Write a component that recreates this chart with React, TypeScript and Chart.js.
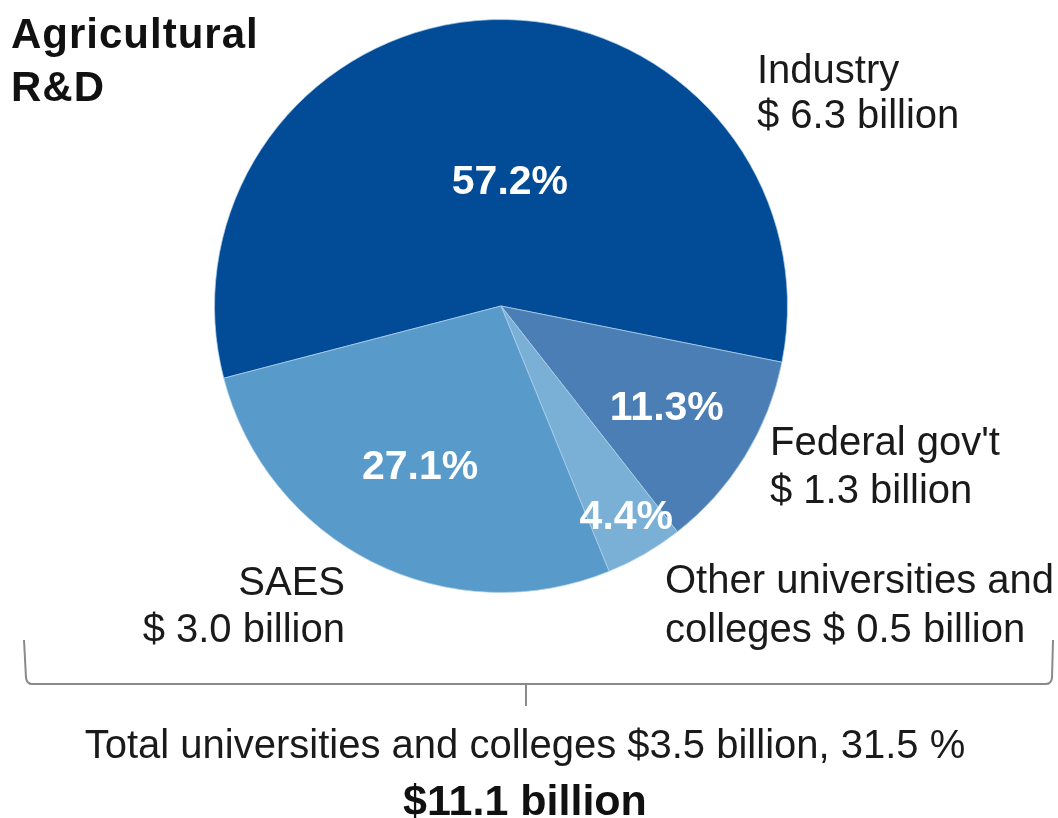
import React, { useEffect, useRef } from "react";
import { Chart, registerables } from "chart.js";

Chart.register(...registerables);

const categories = ["Industry", "Federal gov't", "Other universities and colleges", "SAES"];
const shares = [57.2, 11.3, 4.4, 27.1];
const amounts = ["$ 6.3 billion", "$ 1.3 billion", "$ 0.5 billion", "$ 3.0 billion"];
const colors = ["#024C97", "#4A7EB4", "#7AAFD6", "#589BCA"];
const labelRadius = [0.43, 0.68, 0.86, 0.63];
const labelAngleShiftDeg = [5.8, 0, -0.5, 0];

const titleLines = ["Agricultural", "R&D"];
const totalUniText = "Total universities and colleges $3.5 billion, 31.5 %";
const totalText = "$11.1 billion";

const FONT = "'Liberation Sans', Arial, Helvetica, sans-serif";

const overlayPlugin = {
  id: "overlay",
  afterDatasetsDraw(chart: any) {
    const ctx = chart.ctx as CanvasRenderingContext2D;
    const meta = chart.getDatasetMeta(0);
    ctx.save();
    ctx.fillStyle = "#ffffff";
    ctx.font = `bold 41px ${FONT}`;
    ctx.textAlign = "center";
    ctx.textBaseline = "middle";
    meta.data.forEach((arc: any, i: number) => {
      const p = arc.getProps(["x", "y", "startAngle", "endAngle", "outerRadius"], true);
      const mid = (p.startAngle + p.endAngle) / 2 + (labelAngleShiftDeg[i] * Math.PI) / 180;
      const r = p.outerRadius * labelRadius[i];
      ctx.fillText(shares[i].toFixed(1) + "%", p.x + Math.cos(mid) * r, p.y + Math.sin(mid) * r);
    });
    ctx.restore();
  },
  afterDraw(chart: any) {
    const ctx = chart.ctx as CanvasRenderingContext2D;
    ctx.save();
    ctx.textBaseline = "alphabetic";
    ctx.fillStyle = "#111";
    ctx.textAlign = "left";
    ctx.font = `bold 42px ${FONT}`;
    (ctx as any).letterSpacing = "1px";
    ctx.fillText(titleLines[0], 11, 48);
    ctx.fillText(titleLines[1], 11, 101);
    (ctx as any).letterSpacing = "0px";

    ctx.font = `40px ${FONT}`;
    ctx.fillStyle = "#1a1a1a";
    ctx.fillText(categories[0], 757, 83);
    ctx.fillText(amounts[0], 757, 128);
    ctx.fillText(categories[1], 770, 455);
    ctx.fillText(amounts[1], 770, 503);
    ctx.fillText("Other universities and", 665, 593);
    ctx.fillText("colleges " + amounts[2], 665, 642);
    ctx.textAlign = "right";
    ctx.fillText(categories[3], 345, 595);
    ctx.fillText(amounts[3], 345, 642);

    ctx.strokeStyle = "#8a8a8a";
    ctx.lineWidth = 2;
    ctx.beginPath();
    ctx.moveTo(24, 640);
    ctx.lineTo(26, 678);
    ctx.quadraticCurveTo(27, 684, 32, 684);
    ctx.lineTo(1046, 684);
    ctx.quadraticCurveTo(1051, 684, 1052, 678);
    ctx.lineTo(1053, 640);
    ctx.stroke();
    ctx.beginPath();
    ctx.moveTo(526, 684);
    ctx.lineTo(526, 706);
    ctx.stroke();

    ctx.textAlign = "center";
    ctx.fillStyle = "#1a1a1a";
    ctx.font = `40px ${FONT}`;
    ctx.fillText(totalUniText, 525, 758);
    ctx.fillStyle = "#111";
    ctx.font = `bold 43px ${FONT}`;
    ctx.fillText(totalText, 525, 815);
    ctx.restore();
  },
};

export default function App() {
  const ref = useRef<HTMLCanvasElement | null>(null);
  useEffect(() => {
    if (!ref.current) return;
    const chart = new Chart(ref.current, {
      type: "pie",
      data: {
        labels: categories,
        datasets: [
          {
            data: shares,
            backgroundColor: colors,
            borderColor: "rgba(180,210,235,0.7)",
            borderWidth: 1,
          },
        ],
      },
      options: {
        animation: false,
        responsive: false,
        rotation: 255.4,
        layout: { padding: { left: 214, right: 270, top: 19, bottom: 225 } },
        plugins: { legend: { display: false }, tooltip: { enabled: false } },
      },
      plugins: [overlayPlugin],
    });
    return () => chart.destroy();
  }, []);
  return (
    <div style={{ position: "absolute", left: 0, top: 0, width: 1058, height: 818, background: "#fff" }}>
      <canvas ref={ref} width={1058} height={818} style={{ display: "block" }} />
    </div>
  );
}
